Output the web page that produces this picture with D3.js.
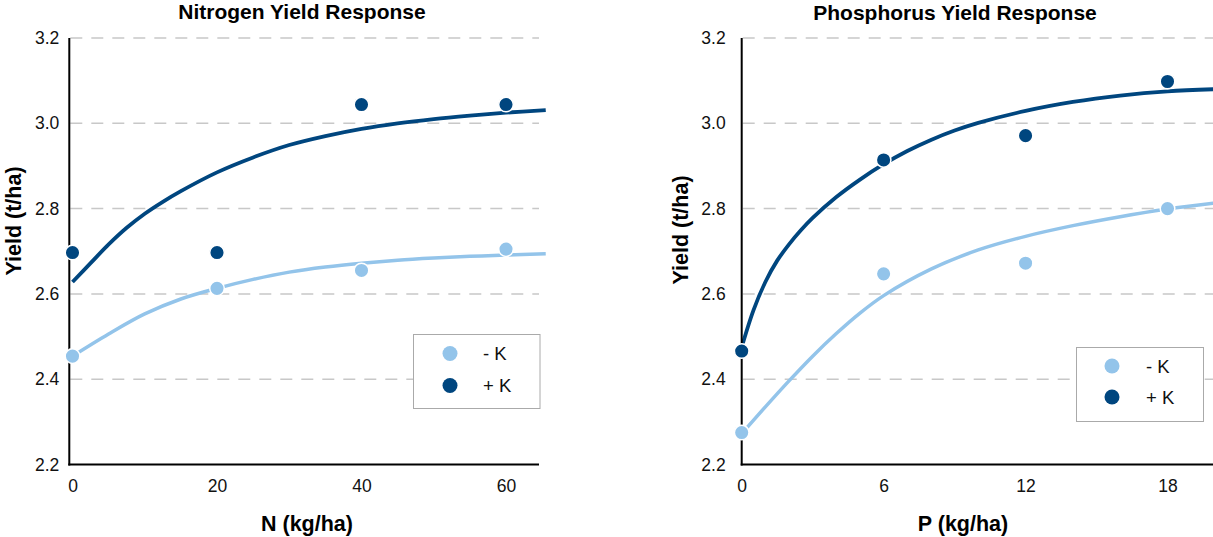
<!DOCTYPE html>
<html>
<head>
<meta charset="utf-8">
<script src="https://cdn.jsdelivr.net/npm/d3@7"></script>
<style>
  html, body { margin: 0; padding: 0; background: #fff; }
  svg { display: block; font-family: "Liberation Sans", Arial, Helvetica, sans-serif; }
</style>
</head>
<body>
<svg id="chart" width="1213" height="537"></svg>
<script>
// ---------- data ----------
const seriesNames = ["- K", "+ K"];
const yTicks = [2.2, 2.4, 2.6, 2.8, 3.0, 3.2];

// Nitrogen panel
const nTicks = [0, 20, 40, 60];
const nDoses = [0, 20, 40, 60];
const nMinusK = [2.454, 2.613, 2.655, 2.705];
const nPlusK = [2.697, 2.697, 3.044, 3.044];
const nCurvePlusX = [0, 2.5, 5, 7.5, 10, 12.5, 15, 20, 25, 30, 35, 40, 45, 50, 55, 60, 65.5];
const nCurvePlusY = [2.628, 2.672, 2.716, 2.755, 2.788, 2.816, 2.841, 2.885, 2.920, 2.949, 2.970, 2.987, 3.000, 3.010, 3.018, 3.025, 3.031];
const nCurveMinusX = [0, 5, 10, 15, 20, 25, 30, 35, 40, 45, 50, 55, 60, 65.5];
const nCurveMinusY = [2.454, 2.506, 2.553, 2.588, 2.613, 2.634, 2.651, 2.663, 2.672, 2.679, 2.684, 2.688, 2.691, 2.694];

// Phosphorus panel
const pTicks = [0, 6, 12, 18];
const pDoses = [0, 6, 12, 18];
const pMinusK = [2.275, 2.647, 2.672, 2.800];
const pPlusK = [2.466, 2.914, 2.971, 3.098];
const pCurvePlusX = [0, 0.5, 1, 1.5, 2, 2.5, 3, 4, 5, 6, 7, 8, 9, 10, 12, 14, 16, 18, 20];
const pCurvePlusY = [2.475, 2.562, 2.628, 2.678, 2.716, 2.749, 2.778, 2.827, 2.868, 2.904, 2.935, 2.961, 2.983, 3.001, 3.029, 3.050, 3.065, 3.075, 3.080];
const pCurveMinusX = [0, 1, 2, 3, 4, 5, 6, 8, 10, 12, 14, 16, 18, 20];
const pCurveMinusY = [2.272, 2.335, 2.396, 2.454, 2.507, 2.555, 2.596, 2.658, 2.703, 2.735, 2.760, 2.781, 2.799, 2.813];

// ---------- style ----------
const COL_LIGHT = "#93C4EA";
const COL_DARK = "#00467F";
const FONT = '"Liberation Sans", Arial, Helvetica, sans-serif';

const svg = d3.select("#chart");
const y = d3.scaleLinear().domain([2.2, 3.2]).range([464.5, 38]);

const panels = [
  {
    title: "Nitrogen Yield Response", titleX: 302, titleY: 19,
    xLabel: "N (kg/ha)", xLabelX: 307,
    yLabelX: 21, yLabelY: 221,
    xDomain: [0, 60], xRange: [72.5, 506], axisStart: 69.3, axisEnd: 539,
    ticks: nTicks, yPad: 10,
    doses: nDoses, minus: nMinusK, plus: nPlusK,
    cPX: nCurvePlusX, cPY: nCurvePlusY, cMX: nCurveMinusX, cMY: nCurveMinusY,
    legend: { x: 413.5, y: 334.5, w: 126.5, h: 74, cx: 450, cy1: 353.5, cy2: 385.5, tx: 483, ty1: 360, ty2: 392 }
  },
  {
    title: "Phosphorus Yield Response", titleX: 955, titleY: 20,
    xLabel: "P (kg/ha)", xLabelX: 963,
    yLabelX: 688, yLabelY: 230,
    xDomain: [0, 18], xRange: [741.7, 1167.5], axisStart: 741.7, axisEnd: 1213,
    ticks: pTicks, yPad: 16,
    doses: pDoses, minus: pMinusK, plus: pPlusK,
    cPX: pCurvePlusX, cPY: pCurvePlusY, cMX: pCurveMinusX, cMY: pCurveMinusY,
    legend: { x: 1076.5, y: 347.5, w: 127, h: 74, cx: 1112, cy1: 366, cy2: 397, tx: 1146, ty1: 372.5, ty2: 404 }
  }
];

panels.forEach(p => {
  const x = d3.scaleLinear().domain(p.xDomain).range(p.xRange);
  const g = svg.append("g");

  // gridlines (dashed)
  g.append("g").selectAll("line").data(yTicks.filter(t => t > 2.2)).join("line")
    .attr("x1", p.axisStart + 1).attr("x2", p.axisEnd)
    .attr("y1", d => y(d)).attr("y2", d => y(d))
    .attr("stroke", "#c8c8c8").attr("stroke-width", 1.5)
    .attr("stroke-dasharray", "12,9");

  // y tick labels
  const yAxis = d3.axisLeft(y).tickValues(yTicks).tickFormat(d3.format(".1f"))
    .tickSize(0).tickPadding(p.yPad);
  const ya = g.append("g").attr("transform", `translate(${p.axisStart},0)`).call(yAxis);
  ya.select(".domain").remove();
  ya.selectAll("text").attr("font-family", FONT).attr("font-size", 17.5).attr("fill", "#111");

  // x tick labels
  const xAxis = d3.axisBottom(x).tickValues(p.ticks).tickFormat(d3.format("d"))
    .tickSize(0).tickPadding(15.5);
  const xa = g.append("g").attr("transform", `translate(0,${y(2.2)})`).call(xAxis);
  xa.select(".domain").remove();
  xa.selectAll("text").attr("font-family", FONT).attr("font-size", 17.5).attr("fill", "#111");

  // curves
  const line = d3.line().x(d => x(d[0])).y(d => y(d[1])).curve(d3.curveCatmullRom.alpha(0.5));
  g.append("path").datum(p.cMX.map((v, i) => [v, p.cMY[i]]))
    .attr("d", line).attr("fill", "none").attr("stroke", COL_LIGHT).attr("stroke-width", 3.5);
  g.append("path").datum(p.cPX.map((v, i) => [v, p.cPY[i]]))
    .attr("d", line).attr("fill", "none").attr("stroke", COL_DARK).attr("stroke-width", 3.8);

  // axis lines
  g.append("line").attr("x1", p.axisStart).attr("x2", p.axisStart)
    .attr("y1", y(3.2)).attr("y2", y(2.2) + 1)
    .attr("stroke", "#000").attr("stroke-width", 2);
  g.append("line").attr("x1", p.axisStart - 1).attr("x2", p.axisEnd)
    .attr("y1", y(2.2)).attr("y2", y(2.2))
    .attr("stroke", "#000").attr("stroke-width", 2);

  // points
  [[p.minus, COL_LIGHT], [p.plus, COL_DARK]].forEach(([vals, col]) => {
    g.append("g").selectAll("circle").data(p.doses.map((d, i) => [d, vals[i]])).join("circle")
      .attr("cx", d => x(d[0])).attr("cy", d => y(d[1])).attr("r", 7.3)
      .attr("fill", col).attr("stroke", "#fff").attr("stroke-width", 1.5);
  });

  // legend
  const L = p.legend;
  g.append("rect").attr("x", L.x).attr("y", L.y).attr("width", L.w).attr("height", L.h)
    .attr("fill", "#fff").attr("stroke", "#aaa").attr("stroke-width", 1);
  [[COL_LIGHT, L.cy1, L.ty1, seriesNames[0]], [COL_DARK, L.cy2, L.ty2, seriesNames[1]]].forEach(([c, cy, ty, name]) => {
    g.append("circle").attr("cx", L.cx).attr("cy", cy).attr("r", 7.5).attr("fill", c);
    g.append("text").attr("x", L.tx).attr("y", ty).text(name)
      .attr("font-family", FONT).attr("font-size", 18.5).attr("fill", "#111");
  });

  // titles
  g.append("text").attr("x", p.titleX).attr("y", p.titleY).attr("text-anchor", "middle")
    .attr("font-family", FONT).attr("font-size", 21).attr("font-weight", "bold").attr("fill", "#000")
    .text(p.title);
  g.append("text").attr("x", p.xLabelX).attr("y", 530.5).attr("text-anchor", "middle")
    .attr("font-family", FONT).attr("font-size", 21.5).attr("font-weight", "bold").attr("fill", "#000")
    .text(p.xLabel);
  g.append("text").attr("transform", `translate(${p.yLabelX},${p.yLabelY}) rotate(-90)`)
    .attr("text-anchor", "middle")
    .attr("font-family", FONT).attr("font-size", 21.5).attr("font-weight", "bold").attr("fill", "#000")
    .text("Yield (t/ha)");
});
</script>
</body>
</html>
